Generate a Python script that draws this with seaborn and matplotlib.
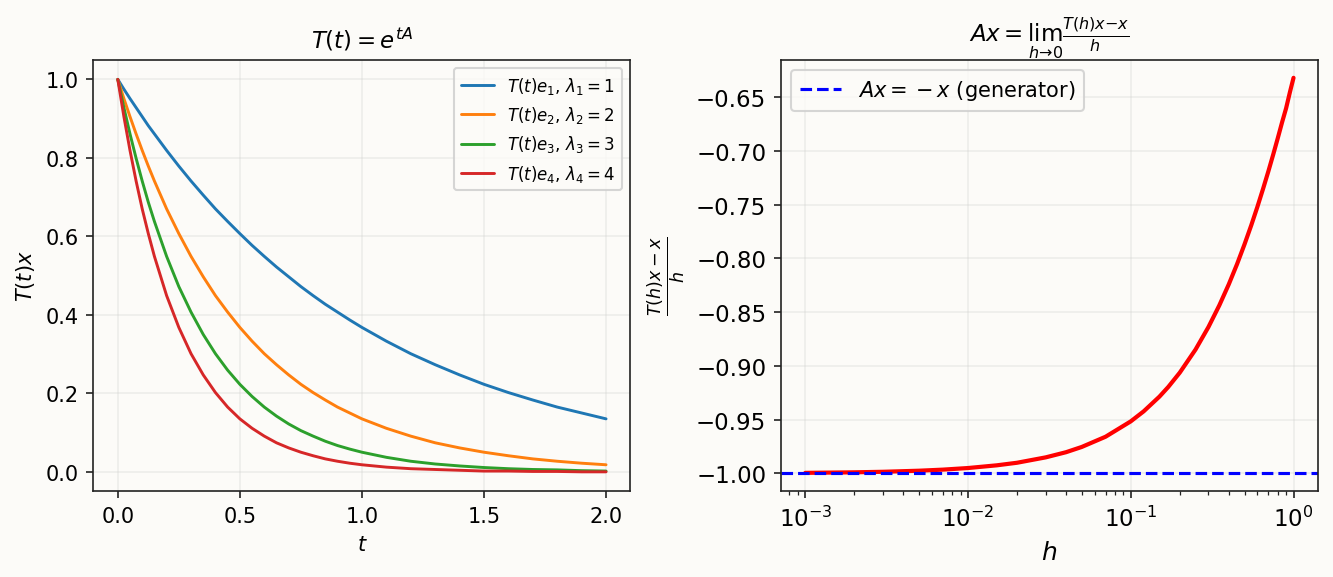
import matplotlib
matplotlib.use("Agg")
import matplotlib.pyplot as plt
import seaborn as sns
import pandas as pd

# ---- data ----
t_vals = [0.0, 0.025, 0.05, 0.075, 0.1, 0.125, 0.15, 0.2, 0.25, 0.3, 0.35, 0.4, 0.45, 0.5,
          0.55, 0.6, 0.65, 0.7, 0.75, 0.8, 0.85, 0.9, 0.95, 1.0,
          1.1, 1.2, 1.3, 1.4, 1.5, 1.6, 1.7, 1.8, 1.9, 2.0]
lam1 = [1.0, 0.975, 0.951, 0.928, 0.905, 0.882, 0.861, 0.819, 0.779, 0.741, 0.705, 0.670, 0.638,
        0.607, 0.577, 0.549, 0.522, 0.497, 0.472, 0.449, 0.427, 0.407, 0.387, 0.368,
        0.333, 0.301, 0.273, 0.247, 0.223, 0.202, 0.183, 0.165, 0.150, 0.135]
lam2 = [1.0, 0.951, 0.905, 0.861, 0.819, 0.779, 0.741, 0.670, 0.607, 0.549, 0.497, 0.449, 0.407,
        0.368, 0.333, 0.301, 0.273, 0.247, 0.223, 0.202, 0.183, 0.165, 0.150, 0.135,
        0.111, 0.091, 0.074, 0.061, 0.050, 0.041, 0.033, 0.027, 0.022, 0.018]
lam3 = [1.0, 0.928, 0.861, 0.799, 0.741, 0.687, 0.638, 0.549, 0.472, 0.407, 0.350, 0.301, 0.259,
        0.223, 0.192, 0.165, 0.142, 0.122, 0.105, 0.091, 0.078, 0.067, 0.058, 0.050,
        0.037, 0.027, 0.020, 0.015, 0.011, 0.008, 0.006, 0.005, 0.003, 0.002]
lam4 = [1.0, 0.905, 0.819, 0.741, 0.670, 0.607, 0.549, 0.449, 0.368, 0.301, 0.247, 0.202, 0.165,
        0.135, 0.111, 0.091, 0.074, 0.061, 0.050, 0.041, 0.033, 0.027, 0.022, 0.018,
        0.012, 0.008, 0.006, 0.004, 0.002, 0.002, 0.001, 0.001, 0.000, 0.000]
series_labels = [r"$T(t)e_1$, $\lambda_1 = 1$", r"$T(t)e_2$, $\lambda_2 = 2$",
                 r"$T(t)e_3$, $\lambda_3 = 3$", r"$T(t)e_4$, $\lambda_4 = 4$"]

h_vals = [0.001, 0.002, 0.003, 0.005, 0.007, 0.01, 0.015, 0.02, 0.03, 0.04, 0.05, 0.07, 0.1,
          0.12, 0.15, 0.17, 0.2, 0.25, 0.3, 0.35, 0.4, 0.45, 0.5, 0.55, 0.6, 0.65, 0.7, 0.75,
          0.8, 0.85, 0.9, 0.95, 1.0]
quotient = [-0.9995, -0.9990, -0.9985, -0.9975, -0.9965, -0.9950, -0.9925, -0.9901, -0.9851,
            -0.9803, -0.9754, -0.9659, -0.9516, -0.9423, -0.9286, -0.9196, -0.9063, -0.8848,
            -0.8639, -0.8437, -0.8242, -0.8053, -0.7869, -0.7692, -0.7520, -0.7353, -0.7192,
            -0.7035, -0.6883, -0.6736, -0.6605, -0.6455, -0.6321]
generator_value = -1.0

bg = "#fcfbf8"
sns.set_style("ticks")
plt.rcParams.update({
    "figure.facecolor": bg,
    "axes.facecolor": bg,
    "savefig.facecolor": bg,
    "axes.edgecolor": "#222222",
    "text.color": "black",
    "axes.labelcolor": "black",
    "xtick.color": "#222222",
    "ytick.color": "#222222",
    "xtick.labelcolor": "black",
    "ytick.labelcolor": "black",
    "font.family": ["DejaVu Sans"],
    "mathtext.fontset": "dejavusans",
})

fig, (ax1, ax2) = plt.subplots(1, 2, figsize=(8.893, 3.853), dpi=150)
fig.subplots_adjust(left=0.07, right=0.988, top=0.895, bottom=0.148, wspace=0.28)

palette = ["#1f77b4", "#ff7f0e", "#2ca02c", "#d62728"]
for vals, lab, c in zip([lam1, lam2, lam3, lam4], series_labels, palette):
    df = pd.DataFrame({"t": t_vals, "y": vals})
    sns.lineplot(data=df, x="t", y="y", ax=ax1, color=c, label=lab, linewidth=1.4)

ax1.set_title(r"$T(t) = e^{tA}$", fontsize=11)
ax1.set_xlabel(r"$t$", fontsize=10)
ax1.set_ylabel(r"$T(t)x$", fontsize=10)
ax1.set_xlim(-0.1, 2.1)
ax1.set_ylim(-0.05, 1.05)
ax1.set_xticks([0.0, 0.5, 1.0, 1.5, 2.0])
ax1.set_yticks([0.0, 0.2, 0.4, 0.6, 0.8, 1.0])
ax1.tick_params(labelsize=10)
ax1.grid(True, alpha=0.3)
ax1.legend(fontsize=8, loc="upper right", frameon=True)

dfh = pd.DataFrame({"h": h_vals, "q": quotient})
sns.lineplot(data=dfh, x="h", y="q", ax=ax2, color="red", linewidth=2)
ax2.axhline(generator_value, color="blue", linestyle="--", linewidth=1.5,
            label=r"$Ax = {} - x$ (generator)")
ax2.set_xscale("log")
ax2.set_title(r"$Ax = \lim_{h \to 0} \frac{T(h)x - x}{h}$", fontsize=11)
ax2.set_xlabel(r"$h$", fontsize=12)
ax2.set_ylabel(r"$\frac{T(h)x - x}{h}$", fontsize=12)
ax2.set_yticks([-1.0, -0.95, -0.9, -0.85, -0.8, -0.75, -0.7, -0.65])
ax2.set_ylim(-1.0168, -0.6153)
ax2.tick_params(labelsize=11)
ax2.grid(True, alpha=0.3)
ax2.legend(fontsize=10, loc="upper left", frameon=True)

fig.savefig("out.png", dpi=150)
